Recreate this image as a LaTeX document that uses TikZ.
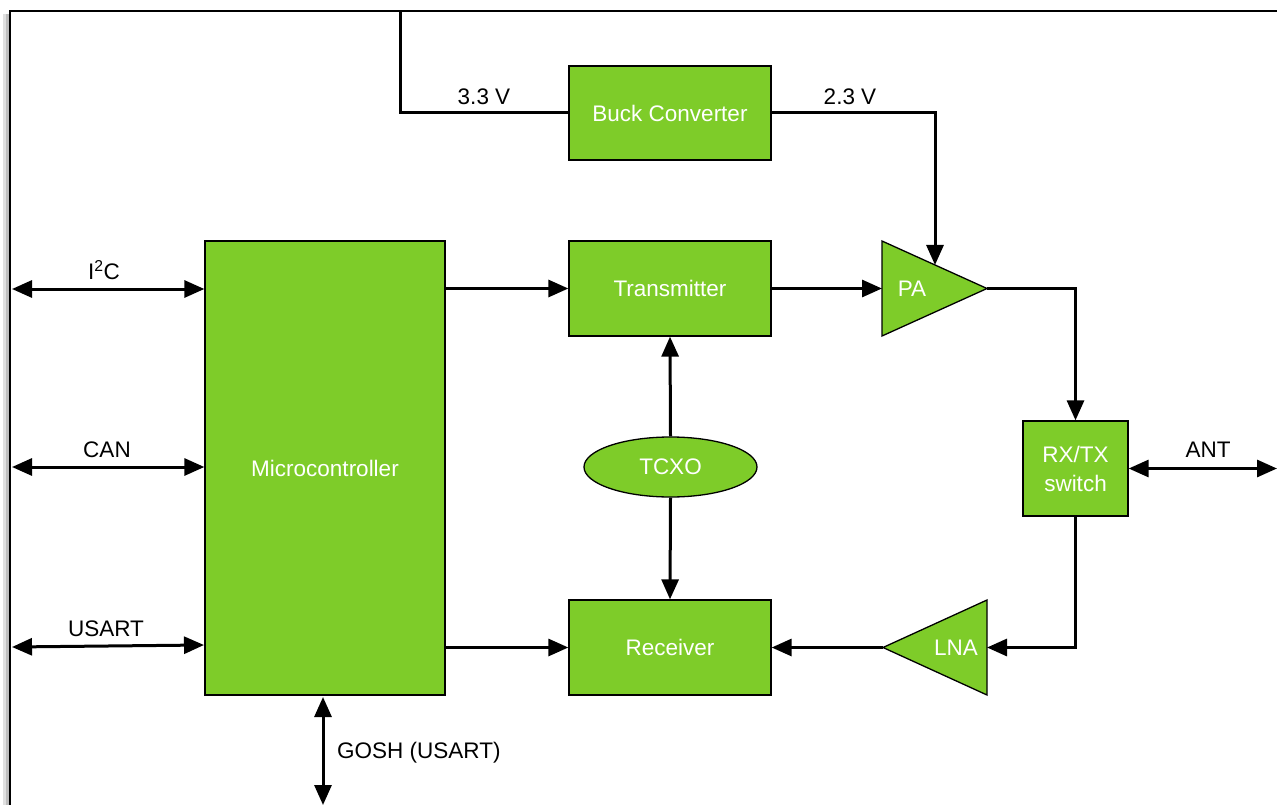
\documentclass[tikz,border=0pt]{standalone}
\usepackage{fontspec}
\setmainfont{Liberation Sans}
\usetikzlibrary{arrows.meta,shapes.geometric}
\definecolor{blockgreen}{RGB}{126,204,41}
\tikzset{
  blk/.style={draw=black, line width=1.3pt, fill=blockgreen, text=white, font=\fontsize{22.5}{26}\selectfont, align=center, inner sep=0pt},
  amp/.style={draw=black, line width=1.3pt, fill=blockgreen},
  ampt/.style={text=white, font=\fontsize{22.5}{26}\selectfont, inner sep=0pt},
  lbl/.style={text=black, font=\fontsize{22.5}{26}\selectfont, inner sep=0pt},
  wire/.style={line width=3pt, line join=miter},
  arr/.style={wire, -{Triangle[length=20pt,width=17pt]}},
  darr/.style={wire, {Triangle[length=20pt,width=17pt]}-{Triangle[length=20pt,width=17pt]}},
}
\begin{document}
\begin{tikzpicture}[x=1pt,y=-1pt]
\useasboundingbox (0,0) rectangle (1277,805);
% frame with shadow
\fill[black!25] (6,14) rectangle (9,805);
\fill[black!12] (3,14) rectangle (6,805);
\draw[line width=2.2pt] (10,805) -- (10,11) -- (1280,11);

% blocks
\node[blk, minimum width=202pt, minimum height=94pt] (buck) at (670,113) {Buck Converter};
\node[blk, minimum width=202pt, minimum height=95pt] (tx) at (670,288.5) {Transmitter};
\node[blk, minimum width=202pt, minimum height=95pt] (rx) at (670,647.5) {Receiver};
\node[blk, minimum width=240pt, minimum height=454pt] (mcu) at (325,468) {Microcontroller};
\node[blk, ellipse, minimum width=173pt, minimum height=60pt] (tcxo) at (670.5,467) {TCXO};
\node[blk, minimum width=105pt, minimum height=95pt] (sw) at (1075.5,468.5) {RX/TX\\[3pt]switch};

% PA triangle
\draw[amp] (882,241) -- (987,288.5) -- (882,336) -- cycle;
\coordinate (pain) at (882,288.5);
\coordinate (paout) at (987,288.5);
\coordinate (patop) at (935,265);
\node[ampt] (pa) at (912,289) {PA};
% LNA triangle
\draw[amp] (987,600) -- (883,647.5) -- (987,695) -- cycle;
\coordinate (lnain) at (987,647.5);
\coordinate (lnaout) at (883,647.5);
\node[ampt] (lna) at (956,648) {LNA};

% power
\coordinate (vin) at (400,11);
\draw[wire] (vin) |- (buck.west);
\node[lbl] (v33) at (484,97) {3.3 V};
\draw[arr] (buck.east) -| (patop);
\node[lbl] (v23) at (850,97) {2.3 V};

% signal paths
\draw[arr] (mcu.east |- tx.west) -- (tx.west);
\draw[arr] (mcu.east |- rx.west) -- (rx.west);
\draw[arr] (tx.east) -- (pain);
\draw[arr] (tcxo.north) -- (tx.south);
\draw[arr] (tcxo.south) -- (rx.north);
\draw[arr] (paout) -| (sw.north);
\draw[arr] (sw.south) |- (lnain);
\draw[arr] (lnaout) -- (rx.east);

% external interfaces
\coordinate (i2cL) at (12,289);
\coordinate (canL) at (12,467);
\coordinate (usL) at (12,647);
\draw[darr] (i2cL) -- (mcu.west |- i2cL);
\node[lbl] (i2c) at (104,270) {I\textsuperscript{2}C};
\draw[darr] (canL) -- (mcu.west |- canL);
\node[lbl] (can) at (107,450) {CAN};
\draw[darr] (usL) -- (204,645);
\node[lbl] (usart) at (106,629) {USART};
\coordinate (goshB) at (323,805);
\coordinate (goshT) at (323,697);
\draw[darr] (goshT) -- (goshB);
\node[lbl, anchor=west] (gosh) at (337,753) {GOSH (USART)};
\coordinate (antR) at (1277,468.5);
\draw[darr] (sw.east) -- (antR);
\node[lbl] (ant) at (1208,450) {ANT};
\end{tikzpicture}
\end{document}
